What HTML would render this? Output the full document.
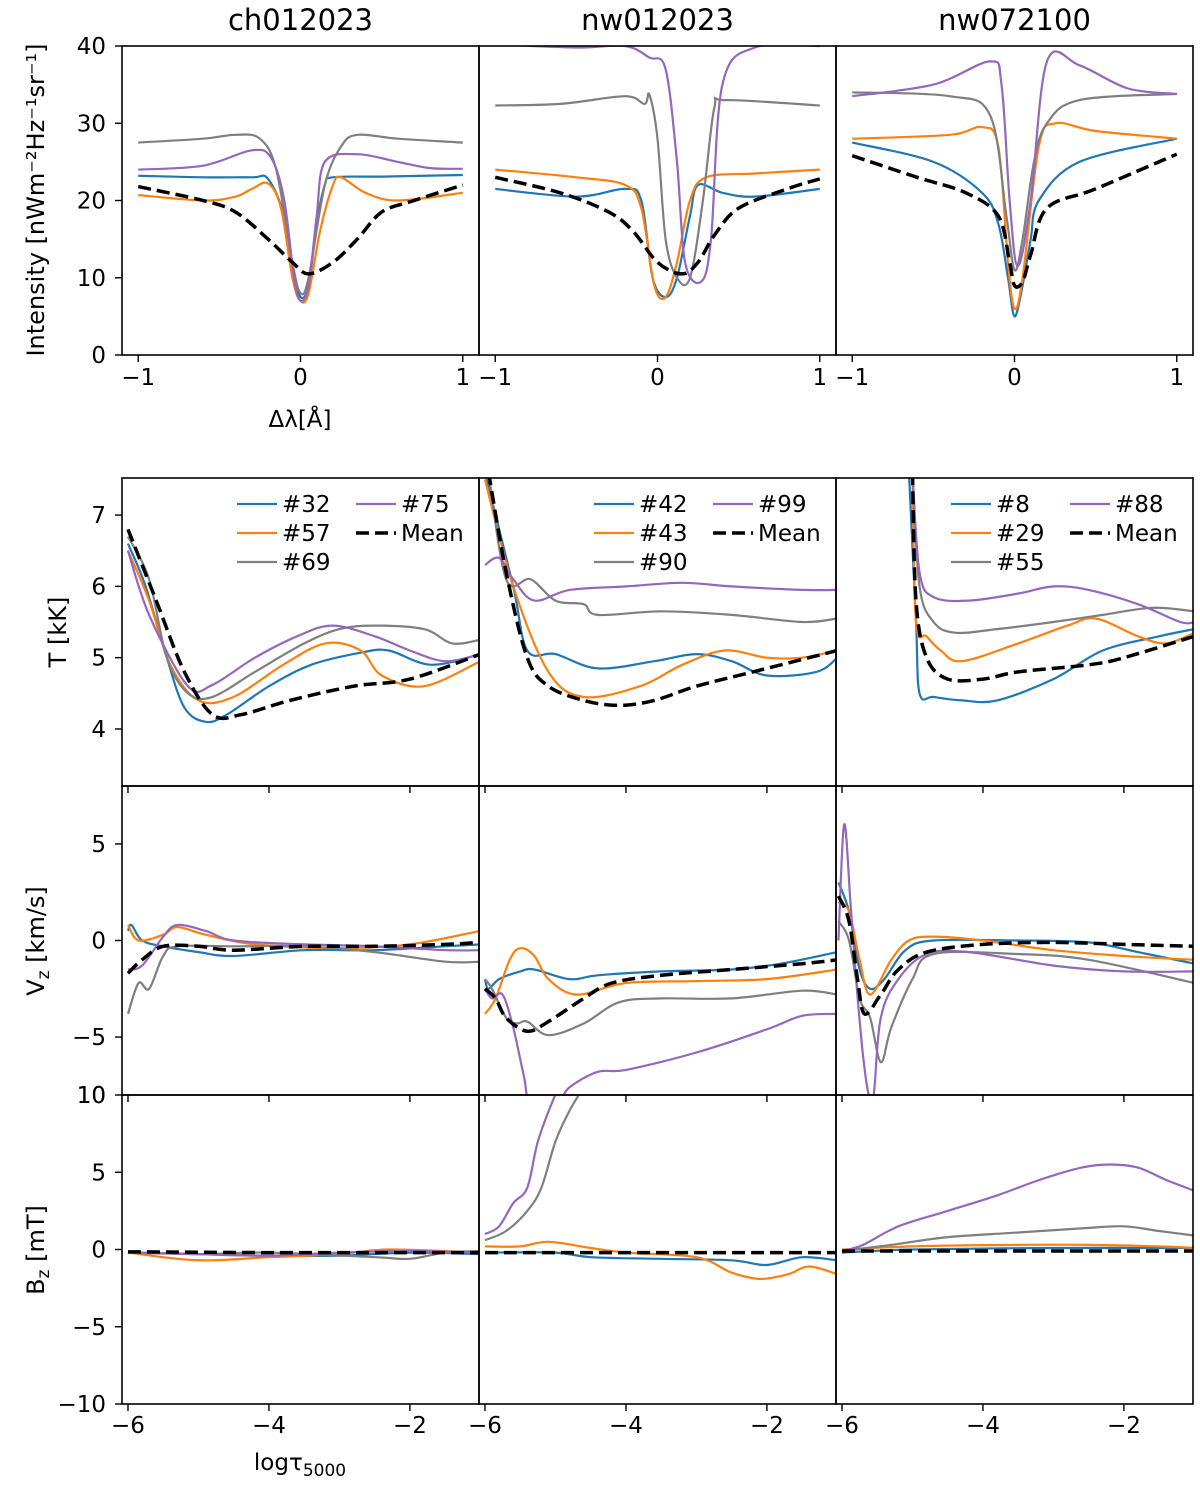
<!DOCTYPE html>
<html><head><meta charset="utf-8"><style>
body{margin:0;background:#fff;}
svg{font-family:"DejaVu Sans","Liberation Sans",sans-serif;}
</style></head><body>
<svg id="fig" width="1200" height="1482" viewBox="0 0 1200 1482" xmlns="http://www.w3.org/2000/svg"></svg>
<script>
const colTitles=["ch012023","nw012023","nw072100"];
const topTicksX=[-1,0,1];
const topTicksY=[0,10,20,30,40];
const botTicksX=[-6,-4,-2];
const tTicks=[4,5,6,7];
const vTicks=[-5,0,5];
const bTicks=[-10,-5,0,5,10];
const legendLabels=[["#32","#57","#69","#75"],["#42","#43","#90","#99"],["#8","#29","#55","#88"]];
// spectra [x,y]
const I1b=[[-1,23.2],[-0.6,23],[-0.3,23],[-0.2,22.8],[-0.1,18],[-0.05,11],[0,7.5],[0.05,9],[0.1,17],[0.15,22],[0.2,23],[0.5,23.1],[1,23.3]];
const I1o=[[-1,20.7],[-0.6,20],[-0.4,20.5],[-0.3,21.5],[-0.2,22.2],[-0.12,19],[-0.05,10],[0,7],[0.05,8],[0.12,16],[0.2,22],[0.25,23],[0.4,21],[0.6,20],[1,21]];
const I1g=[[-1,27.5],[-0.6,28],[-0.4,28.5],[-0.25,28],[-0.15,24],[-0.05,12],[0,8],[0.05,10],[0.15,22],[0.25,27],[0.35,28.5],[0.6,28],[1,27.5]];
const I1p=[[-1,24],[-0.6,24.5],[-0.3,26.5],[-0.18,25.5],[-0.1,20],[-0.04,10],[0,7],[0.05,9],[0.1,18],[0.15,25],[0.35,26],[0.6,25],[0.8,24.2],[1,24.1]];
const I1m=[[-1,21.8],[-0.6,20],[-0.4,18.5],[-0.2,15],[-0.05,12],[0.05,10.5],[0.2,12],[0.35,15],[0.5,18.5],[0.7,20],[1,22]];
const I2b=[[-1,21.5],[-0.5,20.5],[-0.2,21.5],[-0.1,20],[-0.03,10],[0.05,7.5],[0.12,10],[0.2,18],[0.25,22],[0.4,21],[0.6,20.5],[1,21.5]];
const I2o=[[-1,24],[-0.5,23],[-0.2,22],[-0.1,19],[-0.02,9],[0.05,7.5],[0.12,12],[0.2,20],[0.3,23],[0.6,23.5],[1,24]];
const I2g=[[-1,32.3],[-0.6,32.5],[-0.2,33.5],[-0.08,32.5],[-0.05,33.7],[0,28],[0.05,15],[0.12,10],[0.2,10],[0.28,20],[0.35,32],[0.42,33],[1,32.3]];
const I2p=[[-1,40.2],[-0.5,39.8],[-0.2,40],[-0.05,38.5],[0.05,37],[0.12,25],[0.17,12],[0.27,9.5],[0.33,15],[0.4,35],[0.6,39.8],[1,40]];
const I2m=[[-1,23],[-0.6,21],[-0.3,18.5],[-0.15,16],[0,12],[0.15,10.5],[0.25,12],[0.35,15.5],[0.5,19],[0.8,21.5],[1,22.8]];
const I3b=[[-1,27.5],[-0.5,25],[-0.2,21],[-0.1,17],[-0.04,10],[0,5],[0.05,9],[0.1,15],[0.15,20],[0.4,25],[1,28]];
const I3o=[[-1,28],[-0.4,28.5],[-0.2,29.5],[-0.1,27],[-0.04,12],[0,6],[0.05,10],[0.15,27],[0.25,30],[0.5,29],[1,28]];
const I3g=[[-1,34],[-0.4,33.5],[-0.15,31],[-0.05,18],[0,11],[0.05,15],[0.12,25],[0.2,30],[0.4,33],[1,33.8]];
const I3p=[[-1,33.5],[-0.5,35],[-0.15,38],[-0.08,35],[-0.03,20],[0.02,11.5],[0.1,20],[0.2,38],[0.4,37.5],[0.7,34.5],[1,33.8]];
const I3m=[[-1,25.8],[-0.6,23],[-0.3,21],[-0.1,18],[-0.03,12],[0,9],[0.05,9.5],[0.1,13],[0.2,19],[0.5,21.5],[1,26]];
// temperature
const T1b=[[-6,6.6],[-5.75,6],[-5.45,5],[-5.2,4.3],[-4.9,4.1],[-4.6,4.2],[-4,4.6],[-3.4,4.9],[-2.7,5.07],[-2.3,5.1],[-1.7,4.9],[-1,5.05]];
const T1o=[[-6,6.5],[-5.7,5.8],[-5.4,4.9],[-5,4.4],[-4.5,4.45],[-3.8,4.9],[-3.2,5.2],[-2.7,5.1],[-2.4,4.75],[-1.8,4.6],[-1,4.95]];
const T1g=[[-6,6.7],[-5.7,6.1],[-5.45,5],[-5.15,4.5],[-4.8,4.45],[-4.2,4.8],[-3.5,5.2],[-3,5.4],[-2.5,5.45],[-1.8,5.4],[-1.4,5.2],[-1,5.25]];
const T1p=[[-6,6.5],[-5.7,5.6],[-5.15,4.6],[-4.8,4.62],[-4.2,5],[-3.6,5.3],[-3.1,5.45],[-2.5,5.3],[-2,5.1],[-1.5,4.95],[-1,5.05]];
const T1m=[[-6,6.8],[-5.6,5.8],[-5.2,4.8],[-4.8,4.2],[-4.4,4.2],[-3.7,4.4],[-2.8,4.6],[-2,4.7],[-1,5.05]];
const T2b=[[-6,7.6],[-5.6,6],[-5.4,5.1],[-5,5.05],[-4.4,4.85],[-3.6,4.95],[-3,5.05],[-2.5,4.95],[-2,4.75],[-1.3,4.8],[-1,5]];
const T2o=[[-6,7.5],[-5.6,6],[-5.1,4.8],[-4.6,4.45],[-3.8,4.6],[-3.2,4.9],[-2.6,5.1],[-2,5],[-1.5,5],[-1,5.1]];
const T2g=[[-5.95,7.6],[-5.7,6.1],[-5.35,6.1],[-5,5.8],[-4.6,5.75],[-4.4,5.6],[-3.5,5.65],[-2.5,5.6],[-1.5,5.5],[-1,5.55]];
const T2p=[[-6,6.3],[-5.8,6.4],[-5.6,6.1],[-5.3,5.8],[-4.8,5.95],[-4,6],[-3.2,6.05],[-2.5,6],[-1.5,5.95],[-1,5.95]];
const T2m=[[-5.95,7.6],[-5.7,6.2],[-5.4,5],[-5.1,4.6],[-4.6,4.4],[-4.1,4.33],[-3.6,4.4],[-3,4.6],[-2.2,4.8],[-1,5.1]];
const T3b=[[-5.05,7.6],[-4.95,5.5],[-4.9,4.5],[-4.7,4.45],[-4.3,4.4],[-3.8,4.4],[-3,4.7],[-2.3,5.1],[-1.5,5.3],[-1,5.4]];
const T3o=[[-5,7.6],[-4.95,5.5],[-4.8,5.3],[-4.6,5.1],[-4.3,4.95],[-3.5,5.2],[-2.8,5.45],[-2.4,5.55],[-1.8,5.3],[-1.4,5.2],[-1,5.35]];
const T3g=[[-5,7.6],[-4.9,6],[-4.7,5.5],[-4.4,5.35],[-3.8,5.4],[-3,5.5],[-2.3,5.6],[-1.6,5.7],[-1,5.65]];
const T3p=[[-5,7.6],[-4.9,6.2],[-4.7,5.85],[-4.2,5.8],[-3.5,5.9],[-3,6],[-2.5,5.95],[-1.8,5.75],[-1.2,5.5],[-1,5.5]];
const T3m=[[-5,7.6],[-4.95,5.8],[-4.8,5],[-4.5,4.7],[-4,4.7],[-3.5,4.8],[-2.5,4.9],[-2,5],[-1,5.3]];
// vertical velocity
const V1b=[[-6,0.5],[-5.95,0.8],[-5.8,0],[-5.5,-0.3],[-5,-0.6],[-4.5,-0.8],[-3.5,-0.5],[-2.5,-0.5],[-1.5,-0.3],[-1,-0.2]];
const V1o=[[-6,0.8],[-5.85,0],[-5.5,0.3],[-5.3,0.7],[-4.9,0.3],[-4.2,-0.2],[-3,-0.4],[-2,-0.2],[-1,0.5]];
const V1g=[[-6,-3.8],[-5.85,-2.2],[-5.7,-2.5],[-5.5,-0.8],[-5.3,-0.3],[-4.5,-0.3],[-3.5,-0.3],[-2.5,-0.6],[-1.5,-1.1],[-1,-1.1]];
const V1p=[[-6,-1.5],[-5.8,-1.3],[-5.5,0.2],[-5.3,0.8],[-4.9,0.5],[-4.5,0],[-3.5,-0.2],[-2.5,-0.3],[-1.5,-0.5],[-1,-0.5]];
const V1m=[[-6,-1.7],[-5.8,-1],[-5.5,-0.3],[-5,-0.3],[-4.5,-0.5],[-3.5,-0.3],[-2.5,-0.3],[-1.5,-0.2],[-1,-0.1]];
const V2b=[[-6,-2],[-5.95,-2.5],[-5.8,-2],[-5.5,-1.6],[-5.3,-1.5],[-4.8,-2],[-4.4,-1.8],[-3.5,-1.6],[-2.5,-1.5],[-1.8,-1.2],[-1,-0.6]];
const V2o=[[-6,-3.8],[-5.85,-3],[-5.65,-1],[-5.5,-0.4],[-5.3,-0.8],[-5.1,-2],[-4.7,-2.8],[-4,-2.2],[-3,-2.1],[-2,-2],[-1,-1.5]];
const V2g=[[-6,-2],[-5.9,-2.5],[-5.7,-4],[-5.55,-4.3],[-5.4,-4.2],[-5.1,-4.9],[-4.6,-4.3],[-4.1,-3.2],[-3.5,-3],[-2.5,-3],[-1.5,-2.6],[-1,-2.8]];
const V2p=[[-6,-2.5],[-5.9,-3],[-5.75,-2.8],[-5.6,-4.5],[-5.45,-7],[-5.35,-8.5],[-5,-8.5],[-4.8,-7.6],[-4.4,-6.8],[-4,-6.7],[-3,-5.8],[-2,-4.6],[-1.5,-3.9],[-1,-3.8]];
const V2m=[[-6,-2.5],[-5.85,-3],[-5.7,-4],[-5.4,-4.7],[-5.1,-4.2],[-4.6,-3],[-4.2,-2.2],[-3.5,-1.8],[-2.5,-1.5],[-1.5,-1.2],[-1,-1]];
const V3b=[[-6.05,3],[-5.9,1.5],[-5.75,-1.5],[-5.6,-2.5],[-5.4,-2],[-5.1,-0.5],[-4.7,0],[-3.5,0],[-2.5,-0.1],[-1.8,-0.6],[-1,-1.2]];
const V3o=[[-6.05,2],[-5.9,1.5],[-5.75,-1],[-5.6,-2.8],[-5.3,-1],[-5.05,0],[-4.7,0.2],[-4,0],[-3,-0.5],[-2,-0.8],[-1,-1]];
const V3g=[[-6.05,1],[-5.9,0],[-5.75,-3],[-5.6,-4],[-5.45,-6.3],[-5.3,-4.5],[-5,-2],[-4.7,-0.7],[-3.5,-0.7],[-2.5,-1],[-1,-2.2]];
const V3p=[[-6.05,0],[-5.97,6],[-5.88,2],[-5.8,-2],[-5.7,-6],[-5.62,-8],[-5.55,-8],[-5.45,-4],[-5.2,-2],[-4.8,-0.7],[-4.2,-0.6],[-3,-1.3],[-2,-1.6],[-1,-1.6]];
const V3m=[[-6.05,2.3],[-5.9,1],[-5.78,-2],[-5.68,-3.8],[-5.45,-2.8],[-5.2,-1.5],[-4.8,-0.6],[-4,-0.2],[-3,-0.1],[-2,-0.2],[-1,-0.3]];
// magnetic field
const B1b=[[-6,-0.2],[-5,-0.3],[-4,-0.4],[-3,-0.4],[-2,-0.2],[-1,-0.3]];
const B1o=[[-6,-0.2],[-5.3,-0.6],[-4.8,-0.7],[-4,-0.5],[-3,-0.3],[-2.3,0],[-1,-0.2]];
const B1g=[[-6,-0.2],[-5,-0.3],[-4,-0.2],[-2.5,-0.5],[-2,-0.6],[-1.5,-0.2],[-1,-0.1]];
const B1p=[[-6,-0.2],[-5,-0.3],[-4,-0.4],[-3,-0.2],[-2,-0.1],[-1,-0.2]];
const B1m=[[-6,-0.15],[-4,-0.2],[-2,-0.2],[-1,-0.2]];
const B2b=[[-6,-0.2],[-5,-0.2],[-4.5,-0.5],[-3.5,-0.6],[-2.5,-0.7],[-2,-1],[-1.5,-0.5],[-1,-0.7]];
const B2o=[[-6,0.2],[-5.5,0.2],[-5.1,0.5],[-4.5,0.1],[-4,-0.2],[-3,-0.5],[-2.5,-1.5],[-2.1,-1.9],[-1.7,-1.6],[-1.4,-1.1],[-1,-1.6]];
const B2g=[[-6,0.6],[-5.7,1.2],[-5.4,2.5],[-5.2,4],[-5,7],[-4.8,9],[-4.6,10.5]];
const B2p=[[-6,1],[-5.8,1.5],[-5.6,3],[-5.4,4],[-5.25,7],[-5.05,9.5],[-4.95,10.5]];
const B2m=[[-6,-0.2],[-3,-0.2],[-1,-0.2]];
const B3b=[[-6,-0.2],[-5,0],[-3,0.1],[-1,0.1]];
const B3o=[[-6,0],[-5,0.2],[-3.5,0.3],[-2.5,0.3],[-1.5,0.2],[-1,0.1]];
const B3g=[[-6,-0.1],[-5.3,0.3],[-4.5,0.8],[-3.5,1.1],[-2.5,1.4],[-2,1.5],[-1.5,1.2],[-1,0.9]];
const B3p=[[-6,-0.1],[-5.7,0.3],[-5.2,1.5],[-4.5,2.5],[-3.8,3.5],[-3.2,4.5],[-2.6,5.3],[-2.2,5.5],[-1.8,5.3],[-1.4,4.5],[-1,3.8]];
const B3m=[[-6,-0.1],[-3,-0.1],[-1,-0.1]];

const NS="http://www.w3.org/2000/svg";
const svg=document.getElementById('fig');
const colors={b:"#1f77b4",o:"#ff7f0e",g:"#7f7f7f",p:"#9467bd",m:"#000"};
const colX=[122,479,836],colW=357;
function mk(tag,attrs,parent){const e=document.createElementNS(NS,tag);for(const k in attrs)e.setAttribute(k,attrs[k]);(parent||svg).appendChild(e);return e;}
function smoothPath(pts){
  if(pts.length<3)return "M"+pts.map(p=>p.join(",")).join("L");
  let d="M"+pts[0][0]+","+pts[0][1];
  for(let i=0;i<pts.length-1;i++){
    const p0=pts[Math.max(0,i-1)],p1=pts[i],p2=pts[i+1],p3=pts[Math.min(pts.length-1,i+2)];
    const c1=[p1[0]+(p2[0]-p0[0])/6,p1[1]+(p2[1]-p0[1])/6];
    const c2=[p2[0]-(p3[0]-p1[0])/6,p2[1]-(p3[1]-p1[1])/6];
    d+="C"+c1[0].toFixed(1)+","+c1[1].toFixed(1)+" "+c2[0].toFixed(1)+","+c2[1].toFixed(1)+" "+p2[0].toFixed(1)+","+p2[1].toFixed(1);
  }
  return d;
}
let clipId=0;
function panel(c,top,h,xmin,xmax,ymin,ymax,series,name){
  const x0=colX[c];
  const sx=v=>x0+(v-xmin)/(xmax-xmin)*colW;
  const sy=v=>top+h-(v-ymin)/(ymax-ymin)*h;
  const id="clip"+(clipId++);
  const cp=mk('clipPath',{id:id});
  mk('rect',{x:x0,y:top,width:colW,height:h},cp);
  const g=mk('g',{'clip-path':'url(#'+id+')'});
  
  
  const order=['b','o','g','p','m'];
  series.forEach((s,i)=>{
    const k=order[i];
    const p=mk('path',{d:smoothPath(s.map(q=>[sx(q[0]),sy(q[1])])),fill:'none',stroke:colors[k],'stroke-width':k==='m'?3.5:2.2,'stroke-dasharray':k==='m'?'13,6':'none'},g);
    
    
  });
  const fr=mk('rect',{x:x0,y:top,width:colW,height:h,fill:'none',stroke:'#000','stroke-width':1.6});
  
  
  return {sx,sy};
}
function text(x,y,s,size,anchor,name){
  const t=mk('text',{x:x,y:y,'font-size':size,'text-anchor':anchor||'middle',fill:'#000'});
  t.textContent=s;
  
  
  return t;
}
function fmt(v){return v<0?"\u2212"+Math.abs(v):String(v);}
// top row
const topSeries=[[I1b,I1o,I1g,I1p,I1m],[I2b,I2o,I2g,I2p,I2m],[I3b,I3o,I3g,I3p,I3m]];
for(let c=0;c<3;c++){
  const a=panel(c,46,309,-1.1,1.1,0,40,topSeries[c],'intensity-'+colTitles[c]);
  text(colX[c]+colW/2,30,colTitles[c],29,'middle','title-'+colTitles[c]);
  topTicksX.forEach(v=>{mk('line',{x1:a.sx(v),x2:a.sx(v),y1:355,y2:362,stroke:'#000','stroke-width':1.4});text(a.sx(v),385,fmt(v),23,'middle','x-tick-label');});
  if(c===0)topTicksY.forEach(v=>{mk('line',{x1:115,x2:122,y1:a.sy(v),y2:a.sy(v),stroke:'#000','stroke-width':1.4});text(106,a.sy(v)+8,fmt(v),23,'end','y-tick-label');});
}
// bottom rows
const tSeries=[[T1b,T1o,T1g,T1p,T1m],[T2b,T2o,T2g,T2p,T2m],[T3b,T3o,T3g,T3p,T3m]];
const vSeries=[[V1b,V1o,V1g,V1p,V1m],[V2b,V2o,V2g,V2p,V2m],[V3b,V3o,V3g,V3p,V3m]];
const bSeries=[[B1b,B1o,B1g,B1p,B1m],[B2b,B2o,B2g,B2p,B2m],[B3b,B3o,B3g,B3p,B3m]];
const rows=[{top:478,h:308,ymin:3.2,ymax:7.52,s:tSeries,t:tTicks,n:'temperature'},{top:786,h:309,ymin:-8,ymax:8,s:vSeries,t:vTicks,n:'velocity'},{top:1095,h:309,ymin:-10,ymax:10,s:bSeries,t:bTicks,n:'bfield'}];
rows.forEach((r,ri)=>{
  for(let c=0;c<3;c++){
    const a=panel(c,r.top,r.h,-6.085,-1.02,r.ymin,r.ymax,r.s[c],r.n+'-'+colTitles[c]);
    botTicksX.forEach(v=>{mk('line',{x1:a.sx(v),x2:a.sx(v),y1:r.top+r.h,y2:r.top+r.h+7,stroke:'#000','stroke-width':1.4});if(ri===2)text(a.sx(v),1433,fmt(v),23,'middle','x-tick-label');});
    if(c===0)r.t.forEach(v=>{mk('line',{x1:115,x2:122,y1:a.sy(v),y2:a.sy(v),stroke:'#000','stroke-width':1.4});
      if(!(ri===1&&v===-10))text(106,a.sy(v)+8,fmt(v),23,'end','y-tick-label');});
  }
});
text(106,1103,"10",23,'end','y-tick-label');
// legends
for(let c=0;c<3;c++){
  const L=legendLabels[c];const lx=colX[c]+115,lx2=colX[c]+234;
  const items=[[lx,504,'b',L[0]],[lx,533,'o',L[1]],[lx,562,'g',L[2]],[lx2,504,'p',L[3]],[lx2,533,'m','Mean']];
  items.forEach(it=>{
    const ln=mk('line',{x1:it[0],x2:it[0]+40,y1:it[1],y2:it[1],stroke:colors[it[2]],'stroke-width':it[2]==='m'?3.5:2.2,'stroke-dasharray':it[2]==='m'?'13,6':'none'});
    
    
    text(it[0]+45,it[1]+8,it[3],23,'start','legend-entry');
  });
}
// axis labels
text(300,427,"\u0394\u03bb[\u00c5]",23,'middle','x-axis-title-wavelength');
const lt=text(300,1470,"log\u03c4",23,'middle','x-axis-title-tau');
const sub=document.createElementNS(NS,'tspan');sub.setAttribute('font-size','17');sub.setAttribute('dy','6');sub.textContent="5000";lt.appendChild(sub);lt.setAttribute('x',300);
function ylab(x,y,s,name){const t=text(x,y,s,24,'middle',name);t.setAttribute('transform','rotate(-90 '+x+' '+y+')');return t;}
ylab(44,200,"Intensity [nWm\u207b\u00b2Hz\u207b\u00b9sr\u207b\u00b9]",'y-axis-title-intensity');
ylab(66,632,"T [kK]",'y-axis-title-temperature');
const vl=ylab(44,941,"V",'y-axis-title-velocity');
const vs=document.createElementNS(NS,'tspan');vs.setAttribute('font-size','17');vs.setAttribute('dy','5');vs.textContent="z";vl.appendChild(vs);
const vs2=document.createElementNS(NS,'tspan');vs2.setAttribute('dy','-5');vs2.textContent=" [km/s]";vl.appendChild(vs2);
const bl=ylab(44,1250,"B",'y-axis-title-bfield');
const bs=document.createElementNS(NS,'tspan');bs.setAttribute('font-size','17');bs.setAttribute('dy','5');bs.textContent="z";bl.appendChild(bs);
const bs2=document.createElementNS(NS,'tspan');bs2.setAttribute('dy','-5');bs2.textContent=" [mT]";bl.appendChild(bs2);
</script>
</body></html>
